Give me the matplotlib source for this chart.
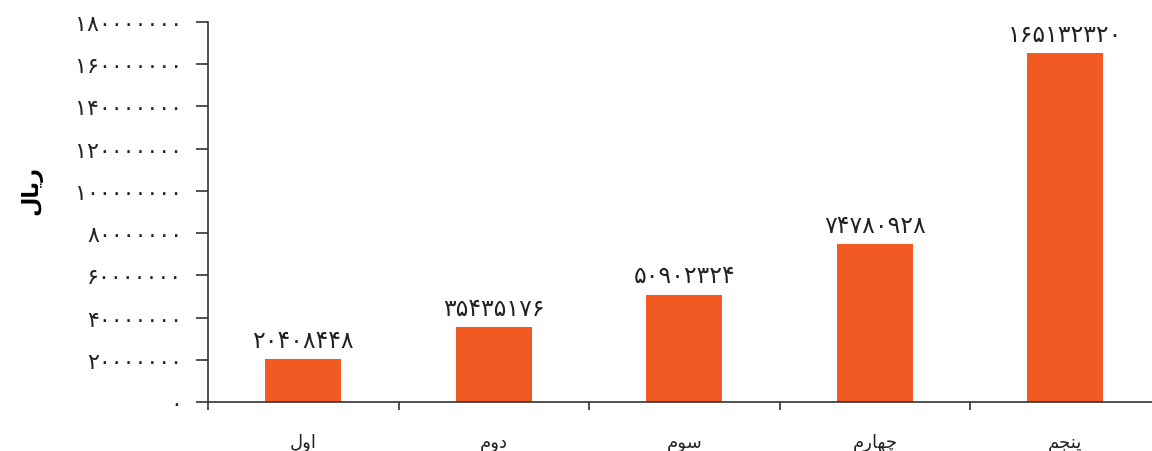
import matplotlib
matplotlib.use('Agg')
import matplotlib.pyplot as plt

# داده ها
categories = ['اول', 'دوم', 'سوم', 'چهارم', 'پنجم']
values = [20408448, 35435176, 50902324, 74780928, 165132320]
y_ticks = [0, 20000000, 40000000, 60000000, 80000000, 100000000,
           120000000, 140000000, 160000000, 180000000]
y_title = 'ریال'

# matplotlib حروف فارسی را به هم نمی چسباند، پس شکل حروف را دستی می سازیم
FORMS = {
    'ا': ('\uFE8D', '\uFE8E', None, None),
    'و': ('\uFEED', '\uFEEE', None, None),
    'د': ('\uFEA9', '\uFEAA', None, None),
    'ر': ('\uFEAD', '\uFEAE', None, None),
    'ل': ('\uFEDD', '\uFEDE', '\uFEDF', '\uFEE0'),
    'م': ('\uFEE1', '\uFEE2', '\uFEE3', '\uFEE4'),
    'س': ('\uFEB1', '\uFEB2', '\uFEB3', '\uFEB4'),
    'چ': ('\uFB7A', '\uFB7B', '\uFB7C', '\uFB7D'),
    'ه': ('\uFEE9', '\uFEEA', '\uFEEB', '\uFEEC'),
    'پ': ('\uFB56', '\uFB57', '\uFB58', '\uFB59'),
    'ن': ('\uFEE5', '\uFEE6', '\uFEE7', '\uFEE8'),
    'ج': ('\uFE9D', '\uFE9E', '\uFE9F', '\uFEA0'),
    'ی': ('\uFBFC', '\uFBFD', '\uFBFE', '\uFBFF'),
}


def joins_after(ch):
    return ch in FORMS and FORMS[ch][2] is not None


def shape(word):
    out = []
    for i, ch in enumerate(word):
        if ch not in FORMS:
            out.append(ch)
            continue
        prev_join = i > 0 and joins_after(word[i - 1])
        next_join = i < len(word) - 1 and word[i + 1] in FORMS and joins_after(ch)
        iso, fin, ini, med = FORMS[ch]
        if prev_join and next_join:
            out.append(med)
        elif prev_join:
            out.append(fin)
        elif next_join:
            out.append(ini)
        else:
            out.append(iso)
    return ''.join(reversed(out))


def fa_digits(n):
    return str(n).translate(str.maketrans('0123456789', '۰۱۲۳۴۵۶۷۸۹'))


plt.rcParams['font.family'] = ['DejaVu Sans']

fig = plt.figure(figsize=(11.52, 4.52), dpi=100)
ax = fig.add_axes([0.1806, 0.1084, 0.8194, 0.8407])

x = list(range(len(categories)))
bars = ax.bar(x, values, width=0.4, color='#F15A22')

for b, v in zip(bars, values):
    ax.text(b.get_x() + b.get_width() / 2, v + 3500000, fa_digits(v),
            ha='center', va='bottom', fontsize=17, color='#222222')

ax.set_xlim(-0.5, 4.455)
ax.set_ylim(0, 180000000)
ax.set_xticks(x)
ax.set_xticklabels([shape(c) for c in categories], fontsize=13, color='#222222')
ax.set_xticks([-0.5, 0.5, 1.5, 2.5, 3.5], minor=True)
ax.tick_params(axis='x', which='major', length=0, pad=22)
ax.tick_params(axis='x', which='minor', length=6, width=1.2, color='#333333')

ax.set_yticks(y_ticks)
ax.set_yticklabels([fa_digits(t) for t in y_ticks], fontsize=16, color='#222222')
ax.tick_params(axis='y', length=8.6, width=1.2, color='#333333', pad=10)

ax.set_ylabel(shape(y_title), fontsize=16, fontweight='bold')
ax.yaxis.set_label_coords(-0.175, 0.56)

for s in ['top', 'right']:
    ax.spines[s].set_visible(False)
for s in ['left', 'bottom']:
    ax.spines[s].set_color('#333333')
    ax.spines[s].set_linewidth(1.2)

plt.savefig('out.png', dpi=100)
